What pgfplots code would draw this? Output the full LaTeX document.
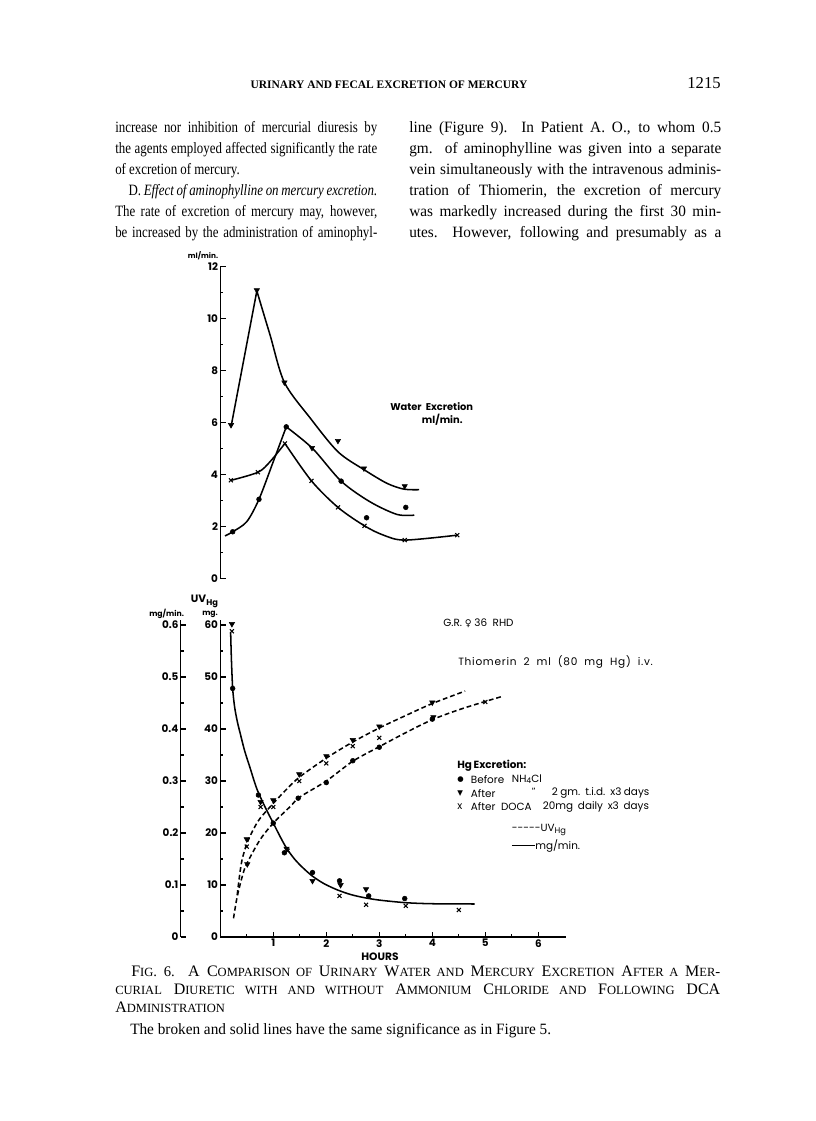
\documentclass[border=0pt]{standalone}
\usepackage{pgfplots}
\pgfplotsset{compat=1.18}
\usepackage{fontspec}
\setmainfont{Liberation Serif}
\newfontfamily\leftfont{Liberation Serif}[FakeStretch=0.82]
\newfontfamily\rightfont{Liberation Serif}[FakeStretch=0.97]
\newfontfamily\capfont{Liberation Serif}
\newfontfamily\cf{Poppins}
\newfontfamily\cfl{Poppins}[LetterSpace=7]
\newfontfamily\symf{DejaVu Sans}
\newcommand\J[1]{\hbox to \linewidth{#1}}
\newcommand\N[1]{\hbox{#1}}
\newcommand\Bc[1]{{\fontsize{12}{12}\selectfont #1}}
\newcommand\Sc[1]{{\fontsize{9.4}{9.4}\selectfont #1}}
\newcommand\cfs[1]{\cf\fontsize{#1}{#1}\selectfont}

\pgfplotstableread{
h y
0.203 5.91
0.69 11.1
1.21 7.55
1.73 5.03
2.22 5.30
2.71 4.24
3.48 3.56
}\topTri
\pgfplotstableread{
h y
0.234 1.80
0.73 3.05
1.245 5.84
2.28 3.75
2.76 2.34
3.5 2.74
}\topCirc
\pgfplotstableread{
h y
0.2 3.78
0.71 4.09
1.22 5.20
1.72 3.76
2.22 2.74
2.72 2.03
3.48 1.48
4.47 1.67
}\topX
\pgfplotstableread{
h v
0.234 47.8
0.72 27.3
1.0 21.9
1.21 16.2
1.74 12.4
2.25 10.8
2.8 7.9
3.48 7.4
1.47 26.7
2.0 29.7
2.5 33.9
3.0 36.5
4.0 41.9
}\botCirc
\pgfplotstableread{
h v
0.22 60.2
0.5 18.8
0.51 14.0
0.76 26.0
1.0 26.3
1.25 17.0
1.49 31.3
1.74 10.8
2.0 34.8
2.27 10.0
2.5 37.9
2.75 9.2
3.0 40.5
4.0 45.1
4.02 42.3
}\botTri
\pgfplotstableread{
h v
0.22 58.8
0.5 17.4
0.76 25.0
1.0 25.0
1.27 16.6
1.49 30.0
2.0 33.4
2.25 7.9
2.5 36.7
2.75 6.2
3.0 38.3
3.5 6.0
4.5 5.2
5.0 45.2
}\botX

\pgfplotsset{
  chart/.style={scale only axis, anchor=south west, clip=false,
    /pgf/number format/assume math mode=true,
    axis line style={-, line width=1.1pt},
    every tick/.style={black, line width=0.9pt},
    ticklabel style={font=\cfs{7.8}\bfseries, inner sep=1.5pt},
  },
  tri/.style={only marks, mark=triangle*, mark size=2.3pt, mark options={rotate=180, fill=black, draw=black}},
  circ/.style={only marks, mark=*, mark size=1.8pt, mark options={fill=black, draw=black}},
  xm/.style={only marks, mark=x, mark size=2.1pt, mark options={line width=0.8pt, draw=black}},
  cur/.style={no marks, black, line width=1.15pt, smooth},
  dcur/.style={no marks, black, line width=1.15pt, smooth, dash pattern=on 3.6pt off 2.2pt},
}

\begin{document}
\begin{tikzpicture}[x=0.75pt,y=-0.75pt]
\path (0,0) rectangle (816,1121);

% running head
\node[anchor=base, inner sep=0] at (389,88) {\capfont\bfseries\fontsize{8.6}{10}\selectfont URINARY AND FECAL EXCRETION OF MERCURY};
\node[anchor=base east, inner sep=0] at (721,88) {\capfont\fontsize{12.5}{14}\selectfont 1215};

% body text
\node[anchor=base west, inner sep=0] at (115,132) {\begin{minipage}[t]{196.5pt}\leftfont\fontsize{11.8}{15.75}\selectfont
\J{increase nor inhibition of mercurial diuresis by}
\J{the agents employed affected significantly the rate}
\N{of excretion of mercury.}
\J{\hspace*{10pt}D.\,\textit{Effect of aminophylline on mercury excretion.}}
\J{The rate of excretion of mercury may, however,}
\J{be increased by the administration of aminophyl-}
\end{minipage}};
\node[anchor=base west, inner sep=0] at (409,132) {\begin{minipage}[t]{234pt}\rightfont\fontsize{11.8}{15.75}\selectfont
\J{line (Figure 9).\ \ In Patient A. O., to whom 0.5}
\J{gm. of aminophylline was given into a separate}
\J{vein simultaneously with the intravenous adminis-}
\J{tration of Thiomerin, the excretion of mercury}
\J{was markedly increased during the first 30 min-}
\J{utes.\ \ However, following and presumably as a}
\end{minipage}};

% ---------- upper panel: water excretion ----------
\begin{axis}[chart, at={(165.2pt,-433.9pt)}, width=259.2pt, height=233.8pt,
  xmin=0, xmax=6.52, ymin=0, ymax=12,
  axis x line=none, axis y line=left, axis line style={-, line width=1.1pt},
  tick align=inside, major tick length=4pt, minor tick length=2.4pt,
  ytick={0,2,4,6,8,10,12}, minor ytick={1,3,5,7,9,11}]
\addplot[cur, sharp plot] coordinates {(0.203,5.84) (0.69,11.07)};
\addplot[cur] coordinates {(0.69,11.07) (0.94,9.37) (1.21,7.55) (1.70,6.17) (2.22,4.88) (2.72,4.18) (3.15,3.66) (3.47,3.44) (3.75,3.42)};
\addplot[cur] coordinates {(0.09,1.64) (0.234,1.80) (0.5,2.19) (0.73,3.05) (1.0,4.50) (1.245,5.84)};
\addplot[cur] coordinates {(1.245,5.84) (1.74,5.01) (2.28,3.75) (2.82,2.96) (3.33,2.47) (3.66,2.44)};
\addplot[cur] coordinates {(0.2,3.78) (0.71,4.09) (0.94,4.50) (1.22,5.20)};
\addplot[cur] coordinates {(1.22,5.20) (1.72,3.76) (2.22,2.74) (2.72,2.03) (3.08,1.67) (3.48,1.48) (4.47,1.67)};
\addplot[tri] table[x=h,y=y] {\topTri};
\addplot[circ] table[x=h,y=y] {\topCirc};
\addplot[xm] table[x=h,y=y] {\topX};
\end{axis}

% ---------- lower panel: outer mg/min axis ----------
\begin{axis}[chart, at={(135.5pt,-702.75pt)}, width=1pt, height=237.9pt,
  xmin=0, xmax=1, ymin=0, ymax=0.61,
  axis x line=none, axis y line=left, axis line style={-, line width=1.1pt},
  tick align=inside, major tick length=4pt, minor tick length=2.4pt,
  ytick={0,0.1,0.2,0.3,0.4,0.5,0.6}, yticklabels={0,0.1,0.2,0.3,0.4,0.5,0.6},
  minor ytick={0.05,0.15,0.25,0.35,0.45,0.55}]
\end{axis}

% ---------- lower panel: mercury ----------
\begin{axis}[chart, at={(165.2pt,-702.75pt)}, width=259.2pt, height=237.9pt,
  xmin=0, xmax=6.52, ymin=0, ymax=61,
  axis x line=bottom, axis y line=left, axis line style={-, line width=1.1pt},
  tick align=inside, major tick length=4pt, minor tick length=2.4pt,
  xtick={1,2,3,4,5,6}, minor xtick={0.5,1.5,2.5,3.5,4.5,5.5},
  ytick={0,10,20,30,40,50,60}, minor ytick={5,15,25,35,45,55}]
\addplot[cur] coordinates {(0.196,58.5) (0.21,53.5) (0.234,47.8) (0.27,44.3) (0.32,41.5) (0.38,39.0) (0.46,35.8) (0.56,32.6) (0.69,28.5) (0.85,24.9) (1.0,21.9) (1.13,19.3) (1.25,17.1) (1.4,15.0) (1.56,13.3) (1.74,11.7) (1.95,10.3) (2.2,9.1) (2.45,8.2) (2.7,7.6) (3.0,7.1) (3.5,6.6) (4.0,6.4) (4.8,6.35)};
\addplot[dcur] coordinates {(0.32,8.1) (0.36,11.5) (0.41,14.8) (0.5,17.9) (0.62,20.6) (0.75,22.8) (1.0,25.7) (1.25,28.4) (1.5,30.8) (2.0,34.4) (2.5,37.5) (3.0,40.2) (3.5,42.6) (4.0,44.9) (4.62,47.3)};
\addplot[dcur] coordinates {(0.25,3.6) (0.32,7.8) (0.43,12.2) (0.51,14.3) (0.75,18.7) (1.0,21.9) (1.32,25.1) (1.5,26.9) (2.0,30.0) (2.5,33.8) (3.0,36.6) (3.5,39.3) (4.0,41.8) (4.5,43.7) (5.0,45.3) (5.33,46.3)};
\addplot[circ] table[x=h,y=v] {\botCirc};
\addplot[tri] table[x=h,y=v] {\botTri};
\addplot[xm] table[x=h,y=v] {\botX};
\end{axis}

% ---------- chart lettering ----------
\node[inner sep=0] at (203,256) {\cfs{5.5}\bfseries ml/min.};
\node[anchor=west, inner sep=0] at (390,406.7) {\cfs{7.4}\bfseries Water\ \ Excretion};
\node[anchor=west, inner sep=0] at (421.7,419.5) {\cfs{7.4}\bfseries ml/min.};

\node[anchor=west, inner sep=0] at (190.7,601.7) {\cfs{8}\bfseries UV\raisebox{-0.45ex}{\cfs{6.2}\bfseries Hg}};
\node[anchor=west, inner sep=0] at (149,614) {\cfs{5.8}\bfseries mg/min.};
\node[anchor=west, inner sep=0] at (202,614) {\cfs{5.8}\bfseries mg.};

\node[anchor=west, inner sep=0] at (443,623.3) {\cfs{7.8}G.R.\ {\symf\fontsize{7}{7}\selectfont ♀}\ 36\ \ RHD};
\node[anchor=west, inner sep=0] at (458,662) {\makebox[146pt][s]{\cfl\fontsize{7.9}{8}\selectfont Thiomerin 2 ml (80 mg Hg) i.v.}};

\node[anchor=west, inner sep=0] at (457,766) {\cfs{7.8}\bfseries Hg\,Excretion:};
\node[anchor=west, inner sep=0] at (457,780) {\symf\fontsize{5.5}{6}\selectfont ●};
\node[anchor=west, inner sep=0] at (470.7,780) {\cfs{7.8}Before};
\node[anchor=west, inner sep=0] at (511.7,779) {\cfs{7.8}NH\raisebox{-0.25ex}{\cfs{5.8}4}Cl};
\node[anchor=west, inner sep=0] at (457,793.3) {\symf\fontsize{5.5}{6}\selectfont ▼};
\node[anchor=west, inner sep=0] at (470.7,793.3) {\cfs{7.8}After};
\node[anchor=west, inner sep=0] at (531,791) {\symf\fontsize{6.5}{6.5}\selectfont ”};
\node[anchor=west, inner sep=0] at (551.7,793.3) {\makebox[73pt][s]{\cfs{7.8}2 gm.\ \ t.i.d.\ \ x3 days}};
\node[anchor=west, inner sep=0] at (457,806.7) {\cfs{7.8}x};
\node[anchor=west, inner sep=0] at (470.7,806.7) {\cfs{7.8}After\ \ DOCA};
\node[anchor=west, inner sep=0] at (542.7,806.7) {\makebox[79.5pt][s]{\cfs{7.8}20mg daily x3 days}};
\node[anchor=west, inner sep=0] at (511.7,830) {\cfs{7.8}-{}-{}-{}-{}-UV\raisebox{-0.45ex}{\cfs{6.2}Hg}};
\node[anchor=west, inner sep=0] at (511.7,846) {\cfs{7.8}\rule[0.55ex]{17.5pt}{0.8pt}mg/min.};

\node[inner sep=0] at (380,956.7) {\cfs{8}\bfseries HOURS};

% caption
\node[anchor=base west, inner sep=0] at (115,976) {\begin{minipage}[t]{453.75pt}\capfont\fontsize{11}{13.5}\selectfont
\J{\hspace*{12pt}\Bc{F}\Sc{IG}. 6.\ \ \Bc{A C}\Sc{OMPARISON OF} \Bc{U}\Sc{RINARY} \Bc{W}\Sc{ATER AND} \Bc{M}\Sc{ERCURY} \Bc{E}\Sc{XCRETION} \Bc{A}\Sc{FTER A} \Bc{M}\Sc{ER}-}
\J{\Sc{CURIAL} \Bc{D}\Sc{IURETIC WITH AND WITHOUT} \Bc{A}\Sc{MMONIUM} \Bc{C}\Sc{HLORIDE AND} \Bc{F}\Sc{OLLOWING} \Bc{DCA}}
\N{\Bc{A}\Sc{DMINISTRATION}}
\end{minipage}};
\node[anchor=base west, inner sep=0] at (130,1034) {\rightfont\fontsize{11.8}{14}\selectfont The broken and solid lines have the same significance as in Figure 5.};
\end{tikzpicture}
\end{document}
